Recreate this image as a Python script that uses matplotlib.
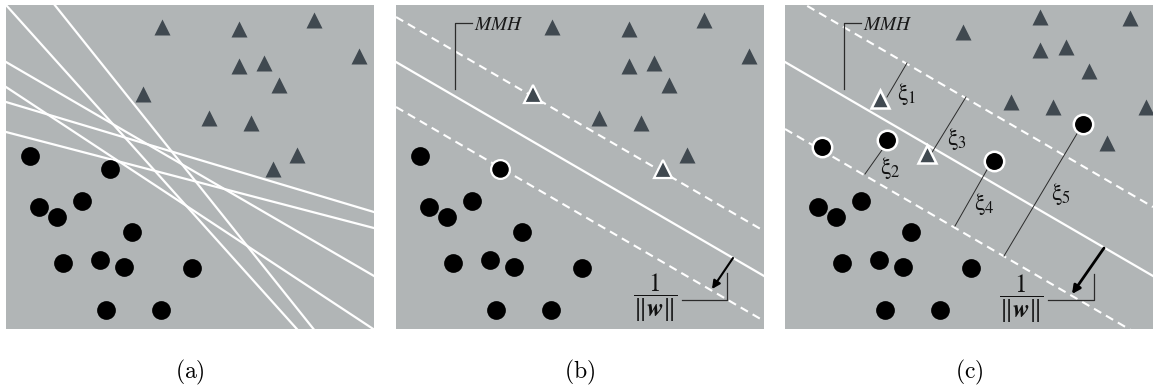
import numpy as np
import matplotlib.pyplot as plt

plt.rcParams["mathtext.fontset"] = "stix"

W, H = 368, 324          # panel size in pixels (x right, y down)
BG = "#b1b5b6"
TRI = "#404950"
INK = "#2b2b2b"

# shared point cloud, panel-local pixel coordinates
circ_x = [24, 104, 33, 51, 76, 126, 57, 94, 118, 186, 100, 155]
circ_y = [151, 164, 202, 212, 196, 227, 258, 255, 262, 263, 305, 305]
tri_x = [156, 233, 308, 353, 233, 258, 273, 137, 203, 245, 291, 267]
tri_y = [22, 24, 15, 51, 61, 58, 80, 89, 113, 118, 150, 164]

# (a) candidate separating lines: y = b + m x
cand_b = [0, -61, 57, 82, 97, 127]
cand_m = [1.114, 1.252, 0.5815, 0.659, 0.299, 0.261]

# (b) hard margin
mmh_b, mmh_m = 57, 0.5815
margin_b = [12, 102]
sv_circ_b = [1]
sv_tri_b = [7, 11]

# (c) soft margin
margin_c = [-12, 124]
c_circ_x, c_circ_y = circ_x[2:], circ_y[2:]
c_sv_circ_x = [37, 102, 209, 298]
c_sv_circ_y = [142, 135, 156, 119]
c_tri_x = [178, 255, 345, 255, 281, 304, 226, 268, 361, 322]
c_tri_y = [27, 12, 13, 45, 42, 66, 97, 102, 102, 138]
c_sv_tri_x = [95, 142]
c_sv_tri_y = [94, 149]

slack_x0 = [122, 97, 181, 203, 293]
slack_y0 = [58, 145, 92, 163, 127]
slack_x1 = [102, 80, 146, 170, 219]
slack_y1 = [92, 169, 149, 221, 251]
slack_lx = [122, 105, 172, 199, 276]
slack_ly = [89, 163, 134, 199, 189]
slack_sub = ["1", "2", "3", "4", "5"]

# 1/||w|| annotation: arrow start/end, bracket corner, bracket ends, label
w_arrow = {"b": (337, 253, 316, 284), "c": (319, 243, 287, 289)}
w_corner = {"b": (331, 295, 286, 268), "c": (309, 295, 263, 269)}
w_label = {"b": (259, 293), "c": (236, 294)}

panel_left = [6, 396, 785]
panel_top = 5
captions = ["(a)", "(b)", "(c)"]


def new_axes(fig, left):
    ax = fig.add_axes([left / 1153, 1 - (panel_top + H) / 391, W / 1153, H / 391])
    ax.set_facecolor(BG)
    ax.set_xlim(0, W)
    ax.set_ylim(H, 0)
    ax.set_xticks([])
    ax.set_yticks([])
    for s in ax.spines.values():
        s.set_visible(False)
    return ax


def points(ax, cx, cy, tx, ty):
    ax.plot(cx, cy, "o", ms=13.5, color="black", mec="none", zorder=4)
    ax.plot(tx, ty, "^", ms=11.5, color=TRI, mec="none", zorder=4)


def hyperplanes(ax, margins):
    xs = np.array([0, W])
    ax.plot(xs, mmh_b + mmh_m * xs, color="white", lw=1.6, zorder=2)
    for b in margins:
        ax.plot(xs, b + mmh_m * xs, color="white", lw=1.5,
                dashes=(4, 2.6), zorder=2)
    # MMH pointer
    ax.plot([59, 59, 76], [84, 18, 18], color=INK, lw=0.9, zorder=3)
    ax.text(78, 19, r"$\mathit{MMH}$", fontsize=14, color="#1a1a1a",
            ha="left", va="center")


def weight_note(ax, key, lw):
    x0, y0, x1, y1 = w_arrow[key]
    ax.annotate("", xy=(x1, y1), xytext=(x0, y0),
                arrowprops=dict(arrowstyle="-|>", color="black", lw=lw,
                                mutation_scale=12, shrinkA=0, shrinkB=0),
                zorder=5)
    cx, cy, hx, vy = w_corner[key]
    ax.plot([hx, cx, cx], [cy, cy, vy], color=INK, lw=0.9, zorder=3)
    lx, ly = w_label[key]
    ax.text(lx, ly, r"$\dfrac{1}{\|\boldsymbol{w}\|}$", fontsize=18,
            color="#111111", ha="center", va="center")


fig = plt.figure(figsize=(11.53, 3.91), dpi=100)

# (a)
ax = new_axes(fig, panel_left[0])
xs = np.array([0, W])
for b, m in zip(cand_b, cand_m):
    ax.plot(xs, b + m * xs, color="white", lw=1.6, zorder=2)
points(ax, circ_x, circ_y, tri_x, tri_y)

# (b)
ax = new_axes(fig, panel_left[1])
hyperplanes(ax, margin_b)
points(ax, circ_x, circ_y, tri_x, tri_y)
ax.plot([circ_x[i] for i in sv_circ_b], [circ_y[i] for i in sv_circ_b], "o",
        ms=13.5, color="black", mec="white", mew=1.6, zorder=5)
ax.plot([tri_x[i] for i in sv_tri_b], [tri_y[i] for i in sv_tri_b], "^",
        ms=12.5, color=TRI, mec="white", mew=1.6, zorder=5)
weight_note(ax, "b", 1.5)

# (c)
ax = new_axes(fig, panel_left[2])
hyperplanes(ax, margin_c)
points(ax, c_circ_x, c_circ_y, c_tri_x, c_tri_y)
ax.plot(c_sv_circ_x, c_sv_circ_y, "o", ms=14, color="black", mec="white",
        mew=1.8, zorder=5)
ax.plot(c_sv_tri_x, c_sv_tri_y, "^", ms=13, color=TRI, mec="white",
        mew=1.8, zorder=5)
for i in range(len(slack_sub)):
    ax.plot([slack_x0[i], slack_x1[i]], [slack_y0[i], slack_y1[i]],
            color=INK, lw=0.7, zorder=3)
    ax.text(slack_lx[i], slack_ly[i], r"$\mathrm{\xi}_" + slack_sub[i] + "$",
            fontsize=17, color="#111111", ha="center", va="center")
weight_note(ax, "c", 2.0)

for left, cap in zip(panel_left, captions):
    fig.text((left + W / 2) / 1153, 1 - 372 / 391, r"$\mathrm{" + cap + "}$",
             fontsize=17, ha="center", va="center", math_fontfamily="cm")

fig.savefig("out.png", dpi=100)
